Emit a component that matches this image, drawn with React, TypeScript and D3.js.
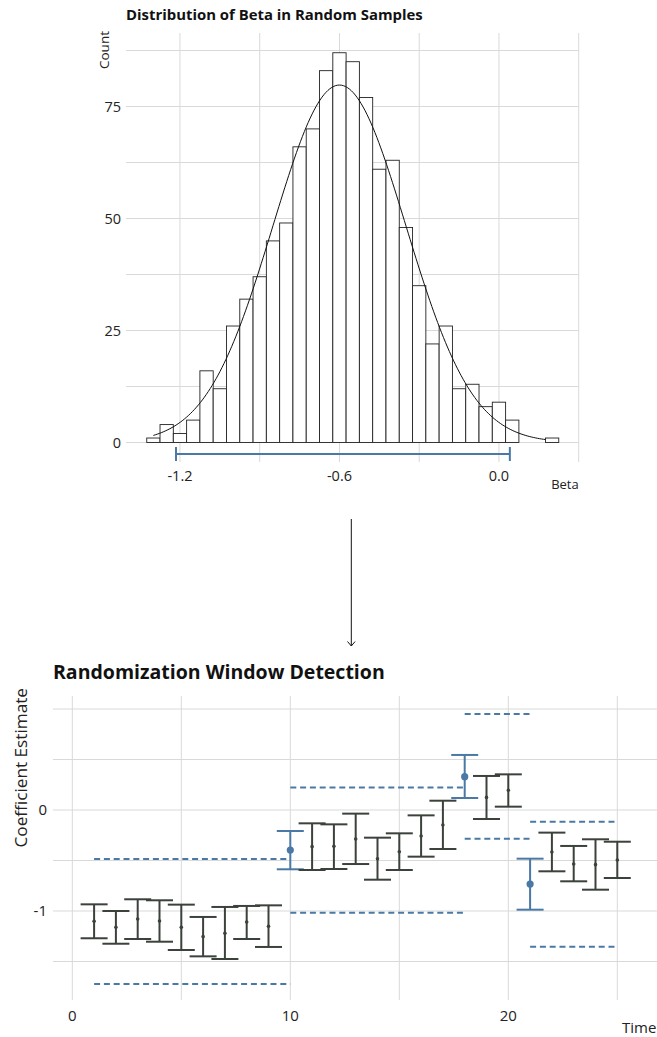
import React from 'react';
import * as d3 from 'd3';

// ---------- Top chart data (histogram) ----------
const binCenters = [
  -1.30, -1.25, -1.20, -1.15, -1.10, -1.05, -1.00, -0.95, -0.90, -0.85,
  -0.80, -0.75, -0.70, -0.65, -0.60, -0.55, -0.50, -0.45, -0.40, -0.35,
  -0.30, -0.25, -0.20, -0.15, -0.10, -0.05, 0.00, 0.05, 0.10, 0.15, 0.20,
];
const binCounts = [
  1, 4, 2, 5, 16, 12, 26, 32, 37, 45,
  49, 66, 70, 83, 87, 85, 77, 61, 63, 48,
  35, 22, 26, 12, 13, 8, 9, 5, 0, 0, 1,
];
const binWidth = 0.05;
const normMean = -0.6;
const normSd = 0.25;
const curveRange = [-1.3, 0.175];
const intervalLo = -1.215;
const intervalHi = 0.041;
const histXTicks = [-1.2, -0.6, 0.0];
const histXGrid = [-1.2, -0.9, -0.6, -0.3, 0.0, 0.3];
const histYTicks = [0, 25, 50, 75];
const histYGrid = [0, 12.5, 25, 37.5, 50, 62.5, 75, 87.5];

// ---------- Bottom chart data (error bars) ----------
const times = [1, 2, 3, 4, 5, 6, 7, 8, 9, 10, 11, 12, 13, 14, 15, 16, 17, 18, 19, 20, 21, 22, 23, 24, 25];
const estimates = [-1.102, -1.162, -1.079, -1.099, -1.162, -1.254, -1.221, -1.109, -1.152, -0.396,
  -0.363, -0.360, -0.287, -0.482, -0.413, -0.257, -0.149, 0.330, 0.125, 0.195,
  -0.733, -0.416, -0.535, -0.541, -0.495];
const lowers = [-1.270, -1.324, -1.277, -1.304, -1.386, -1.449, -1.475, -1.277, -1.356, -0.587,
  -0.594, -0.584, -0.535, -0.690, -0.594, -0.462, -0.386, 0.119, -0.089, 0.033,
  -0.987, -0.607, -0.706, -0.789, -0.673];
const uppers = [-0.934, -1.000, -0.884, -0.894, -0.937, -1.059, -0.960, -0.950, -0.944, -0.208,
  -0.132, -0.142, -0.036, -0.274, -0.231, -0.053, 0.092, 0.545, 0.337, 0.353,
  -0.482, -0.224, -0.356, -0.290, -0.314];
const highlightTimes = [10, 18, 21];
const windowStarts = [1, 10, 18, 21];
const windowEnds = [10, 18, 21, 25];
const windowUpper = [-0.485, 0.222, 0.950, -0.116];
const windowLower = [-1.723, -1.017, -0.284, -1.353];
const tsXTicks = [0, 10, 20];
const tsXGrid = [0, 5, 10, 15, 20, 25];
const tsYTicks = [0, -1];
const tsYGrid = [-1.5, -1, -0.5, 0, 0.5, 1];

const FONT = '"Open Sans", "Noto Sans", sans-serif';
const BLUE = '#4a79a5';
const DARK = '#3b413b';
const GRID = '#d9d9d9';

const fmtTick = (v: number) => d3.format('.1f')(v).replace('\u2212', '-');

export default function App() {
  // Top chart scales
  const hx = d3.scaleLinear().domain([-1.403, 0.3]).range([126, 578.7]);
  const hy = d3.scaleLinear().domain([0, 87.5]).range([442.5, 50.5]);
  const hTop = 33, hBottom = 462;

  const total = d3.sum(binCounts);
  const curvePts = d3.range(0, 201).map(i => {
    const v = curveRange[0] + (curveRange[1] - curveRange[0]) * i / 200;
    const z = (v - normMean) / normSd;
    const dens = Math.exp(-0.5 * z * z) / (normSd * Math.sqrt(2 * Math.PI));
    return [v, total * binWidth * dens] as [number, number];
  });
  const curveLine = d3.line<[number, number]>().x(d => hx(d[0])).y(d => hy(d[1]))(curvePts) || '';

  // Bottom chart scales
  const tx = d3.scaleLinear().domain([0, 25]).range([72.3, 617.3]);
  const ty = d3.scaleLinear().domain([0, -1]).range([810, 911]);
  const tLeft = 53, tRight = 657, tTop = 696, tBottom = 1000;
  const capHalf = 13.5;

  return (
    <svg width={657} height={1037} style={{ position: 'absolute', left: 0, top: 0 }} fontFamily={FONT}>
      <rect x={0} y={0} width={657} height={1037} fill="#fff" />
      {/* ---------- Top chart ---------- */}
      <g>
        {histYGrid.map(v => (
          <line key={'hg' + v} x1={126} x2={578.7} y1={hy(v)} y2={hy(v)} stroke={GRID} strokeWidth={1} />
        ))}
        {histXGrid.map(v => (
          <line key={'vg' + v} x1={hx(v)} x2={hx(v)} y1={hTop} y2={hBottom} stroke={GRID} strokeWidth={1} />
        ))}
        {binCenters.map((c, i) => binCounts[i] > 0 ? (
          <rect key={'b' + i} x={hx(c - binWidth / 2)} y={hy(binCounts[i])}
            width={hx(c + binWidth / 2) - hx(c - binWidth / 2)} height={hy(0) - hy(binCounts[i])}
            fill="#fff" stroke="#222" strokeWidth={0.9} />
        ) : null)}
        <path d={curveLine} fill="none" stroke="#111" strokeWidth={1} />
        {/* interval */}
        <line x1={hx(intervalLo)} x2={hx(intervalHi)} y1={454} y2={454} stroke={BLUE} strokeWidth={2} />
        <line x1={hx(intervalLo)} x2={hx(intervalLo)} y1={447} y2={461} stroke={BLUE} strokeWidth={2} />
        <line x1={hx(intervalHi)} x2={hx(intervalHi)} y1={447} y2={461} stroke={BLUE} strokeWidth={2} />
        {histYTicks.map(v => (
          <text key={'yt' + v} x={121} y={hy(v)} dy="0.35em" textAnchor="end" fontSize={14.5} fill="#222">{v}</text>
        ))}
        {histXTicks.map(v => (
          <text key={'xt' + v} x={hx(v)} y={480.5} textAnchor="middle" fontSize={14.5} fill="#222">{fmtTick(v)}</text>
        ))}
        <text x={578.7} y={489} textAnchor="end" fontSize={13} fill="#222">Beta</text>
        <text transform="translate(108.5,31) rotate(-90)" textAnchor="end" fontSize={13.5} fill="#222">Count</text>
        <text x={126} y={20} fontSize={14.9} fontWeight="bold" fill="#111">Distribution of Beta in Random Samples</text>
      </g>

      {/* ---------- Arrow ---------- */}
      <line x1={351.3} x2={351.3} y1={519} y2={646} stroke="#111" strokeWidth={1} />
      <path d="M347.5,641.5 L351.3,646 L355.1,641.5" fill="none" stroke="#111" strokeWidth={1} />

      {/* ---------- Bottom chart ---------- */}
      <g>
        {tsYGrid.map(v => (
          <line key={'tg' + v} x1={tLeft} x2={tRight} y1={ty(v)} y2={ty(v)} stroke={GRID} strokeWidth={1} />
        ))}
        {tsXGrid.map(v => (
          <line key={'tv' + v} x1={tx(v)} x2={tx(v)} y1={tTop} y2={tBottom} stroke={GRID} strokeWidth={1} />
        ))}
        {windowStarts.map((s, i) => (
          <g key={'w' + i}>
            <line x1={tx(s)} x2={tx(windowEnds[i])} y1={ty(windowUpper[i])} y2={ty(windowUpper[i])}
              stroke={BLUE} strokeWidth={2} strokeDasharray="6 3.8" />
            <line x1={tx(s)} x2={tx(windowEnds[i])} y1={ty(windowLower[i])} y2={ty(windowLower[i])}
              stroke={BLUE} strokeWidth={2} strokeDasharray="6 3.8" />
          </g>
        ))}
        {times.map((t, i) => {
          const hl = highlightTimes.includes(t);
          const col = hl ? BLUE : DARK;
          const x = tx(t);
          return (
            <g key={'e' + t}>
              <line x1={x} x2={x} y1={ty(lowers[i])} y2={ty(uppers[i])} stroke={col} strokeWidth={2} />
              <line x1={x - capHalf} x2={x + capHalf} y1={ty(lowers[i])} y2={ty(lowers[i])} stroke={col} strokeWidth={2} />
              <line x1={x - capHalf} x2={x + capHalf} y1={ty(uppers[i])} y2={ty(uppers[i])} stroke={col} strokeWidth={2} />
              <circle cx={x} cy={ty(estimates[i])} r={hl ? 3.6 : 1.8} fill={col} />
            </g>
          );
        })}
        {tsYTicks.map(v => (
          <text key={'tyt' + v} x={47} y={ty(v)} dy="0.35em" textAnchor="end" fontSize={15} fill="#222">{v}</text>
        ))}
        {tsXTicks.map(v => (
          <text key={'txt' + v} x={tx(v)} y={1021} textAnchor="middle" fontSize={15} fill="#222">{v}</text>
        ))}
        <text x={622} y={1033} textAnchor="start" fontSize={15} fill="#222">Time</text>
        <text transform="translate(27,688) rotate(-90)" textAnchor="end" fontSize={17.2} fill="#222">Coefficient Estimate</text>
        <text x={53} y={679} fontSize={19.5} fontWeight="bold" fill="#111">Randomization Window Detection</text>
      </g>
    </svg>
  );
}
